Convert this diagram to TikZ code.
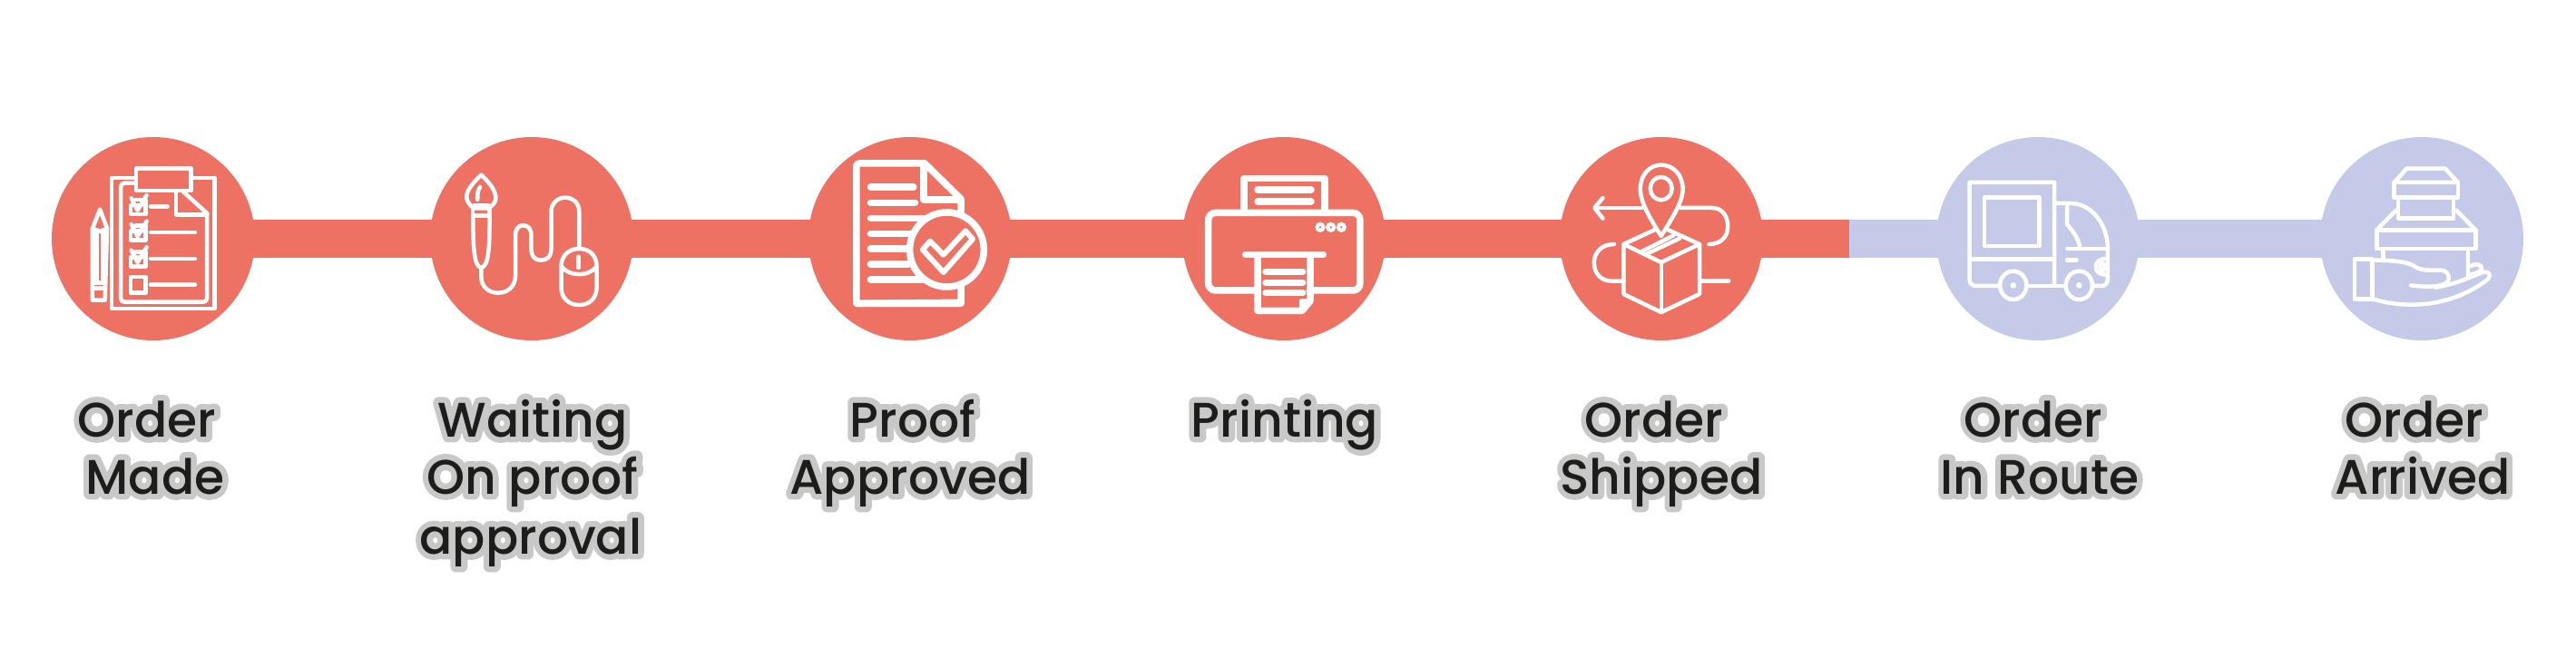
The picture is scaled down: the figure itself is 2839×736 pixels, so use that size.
\documentclass[tikz,border=0pt]{standalone}
\usepackage{fontspec}
\usetikzlibrary{backgrounds}
\newfontface\lblfont{Poppins Medium}
\newfontface\halofont[FakeBold=24]{Poppins Medium}
\definecolor{donered}{HTML}{ED7264}
\definecolor{todoblue}{HTML}{C5CAE8}
\definecolor{lbltext}{HTML}{1D1D1B}
\definecolor{lblhalo}{HTML}{C8C8C8}
\newcommand{\halotext}[1]{\pgfsetroundjoin\rlap{\halofont\color{lblhalo}#1}#1}
\tikzset{
  stepcircle/.style={circle,minimum size=224pt,inner sep=0pt},
  barline/.style={line width=42pt},
  lbl/.style={anchor=base,inner sep=0pt,text=lbltext,font=\lblfont\fontsize{53.5}{60}\selectfont},
  icon/.style={draw=white,line width=4.5pt,line join=round,line cap=round},
  iconthick/.style={draw=white,line width=7.5pt,line join=round,line cap=round}
}
\begin{document}
\begin{tikzpicture}[x=1pt,y=-1pt]
  \useasboundingbox (0,0) rectangle (2839,736);
  % circles
  \node[stepcircle,fill=donered] (made) at (169,263) {};
  \node[stepcircle,fill=donered] (waiting) at (586,263) {};
  \node[stepcircle,fill=donered] (approved) at (1003,263) {};
  \node[stepcircle,fill=donered] (printing) at (1415,263) {};
  \node[stepcircle,fill=donered] (shipped) at (1831,263) {};
  \node[stepcircle,fill=todoblue] (inroute) at (2246,263) {};
  \node[stepcircle,fill=todoblue] (arrived) at (2669,263) {};
  \coordinate (split) at (2038,263);
  \begin{pgfonlayer}{background}
    \draw[barline,donered] (made.center) -- (waiting.center);
    \draw[barline,donered] (waiting.center) -- (approved.center);
    \draw[barline,donered] (approved.center) -- (printing.center);
    \draw[barline,donered] (printing.center) -- (shipped.center);
    \draw[barline,donered] (shipped.center) -- (split);
    \draw[barline,todoblue] (split) -- (inroute.center);
    \draw[barline,todoblue] (inroute.center) -- (arrived.center);
  \end{pgfonlayer}
  % labels
  \node[lbl] (madea) at (162,481) {\halotext{Order}};
  \node[lbl] (madeb) at (171,544) {\halotext{Made}};
  \node[lbl] (waitinga) at (587,481) {\halotext{Waiting}};
  \node[lbl] (waitingb) at (587,544) {\halotext{On proof}};
  \node[lbl] (waitingc) at (585,610) {\halotext{approval}};
  \node[lbl] (approveda) at (1006,481) {\halotext{Proof}};
  \node[lbl] (approvedb) at (1003,544) {\halotext{Approved}};
  \node[lbl] (printinga) at (1416,481) {\halotext{Printing}};
  \node[lbl] (shippeda) at (1823,481) {\halotext{Order}};
  \node[lbl] (shippedb) at (1831,544) {\halotext{Shipped}};
  \node[lbl] (inroutea) at (2241,481) {\halotext{Order}};
  \node[lbl] (inrouteb) at (2248,544) {\halotext{In Route}};
  \node[lbl] (arriveda) at (2661,481) {\halotext{Order}};
  \node[lbl] (arrivedb) at (2670,544) {\halotext{Arrived}};
  % clipboard and pencil
  \begin{scope}[shift={(0,120)},x=0.4592pt,y=-0.3333pt]
    \draw[icon] (222,395) -- (240,332) -- (257,395) -- (252,632) -- (222,632) -- cycle;
    \draw[icon] (222,395) -- (240,405) -- (257,395);
    \draw[icon] (232,400) -- (232,575);
    \draw[icon] (247,400) -- (247,575);
    \draw[icon] (222,575) -- (252,575);
    \draw[icon] (222,592) -- (252,592);
    \draw[icon] (325,228) -- (268,228) -- (268,660) -- (515,660) -- (515,228) -- (458,228);
    \draw[icon,rounded corners=4pt] (325,245) -- (290,245) -- (290,638) -- (497,638) -- (497,345);
    \draw[icon] (497,345) -- (437,270);
    \draw[icon] (423,272) -- (423,350) -- (497,350);
    \draw[icon] (327,197) rectangle (458,270);
    \foreach \y in {0,86,172} {
      \draw[icon] (340,\y+318) -- (314,\y+318) -- (314,\y+348) -- (350,\y+348) -- (350,\y+305);
      \draw[icon] (315,\y+295) -- (330,\y+335) -- (352,\y+285);
      \draw[icon] (325,\y+300) -- (350,\y+300);
    }
    \draw[icon] (362,322) -- (402,322);
    \draw[icon] (362,408) -- (468,408);
    \draw[icon] (362,495) -- (468,495);
    \draw[icon] (314,555) rectangle (350,607);
    \draw[icon] (362,581) -- (468,581);
    % brush, cable and mouse
    \draw[icon] (1155,218) .. controls (1130,250) and (1118,275) .. (1120,295) .. controls (1122,310) and (1130,322) .. (1138,328) -- (1172,328) .. controls (1180,322) and (1190,310) .. (1190,295) .. controls (1190,275) and (1180,250) .. (1155,218);
    \draw[icon] (1152,258) .. controls (1146,275) .. (1146,300);
    \draw[icon] (1138,318) -- (1172,318);
    \draw[icon] (1135,328) -- (1135,352) -- (1175,352) -- (1175,328);
    \draw[icon] (1135,352) .. controls (1136,450) and (1136,520) .. (1155,525) .. controls (1174,520) and (1175,450) .. (1175,352);
    \draw[icon] (1155,525) -- (1155,555) .. controls (1155,590) and (1175,608) .. (1195,608) .. controls (1220,608) and (1237,585) .. (1237,550) -- (1237,420) .. controls (1237,395) and (1245,385) .. (1255,385) .. controls (1268,385) and (1275,395) .. (1275,420) -- (1275,460) .. controls (1275,490) and (1285,500) .. (1298,500) .. controls (1312,500) and (1323,490) .. (1323,460) -- (1323,340) .. controls (1323,310) and (1340,293) .. (1356,293) .. controls (1375,293) and (1390,310) .. (1390,340) -- (1390,462);
    \draw[icon] (1347,520) .. controls (1347,485) and (1365,462) .. (1390,462) .. controls (1415,462) and (1432,485) .. (1432,520) -- (1432,590) .. controls (1432,625) and (1415,648) .. (1390,648) .. controls (1365,648) and (1347,625) .. (1347,590) -- cycle;
    \draw[icon] (1347,520) .. controls (1365,555) and (1415,555) .. (1432,520);
    \draw[icon] (1388,488) -- (1388,525);
  \end{scope}
  % approved document
  \begin{scope}[shift={(700,120)},x=0.4592pt,y=-0.3333pt]
    \draw[iconthick,rounded corners=3pt] (782,640) -- (531,643) -- (531,180) -- (695,180);
    \draw[iconthick] (695,180) -- (782,298) -- (782,643) -- (531,643);
    \draw[iconthick] (693,185) -- (693,300) -- (782,300);
    \draw[iconthick] (565,258) -- (668,258);
    \draw[iconthick] (565,310) -- (672,310);
    \draw[iconthick] (565,361) -- (700,361);
    \draw[iconthick] (565,412) -- (665,412);
    \draw[iconthick] (565,462) -- (655,462);
    \draw[iconthick] (565,513) -- (655,513);
    \draw[iconthick] (565,564) -- (690,564);
    \draw[iconthick,fill=donered] (748,465) ellipse [x radius=89,y radius=123];
    \draw[icon,line width=6pt] (690,465) -- (708,437) -- (740,482) -- (793,403) -- (810,430) -- (740,540) -- cycle;
  \end{scope}
  % printer
  \begin{scope}[shift={(1280,150)},x=0.3333pt,y=-0.3333pt]
    \draw[iconthick,rounded corners=8pt] (318,510) -- (155,510) -- (155,253) -- (657,253) -- (657,510) -- (490,510);
    \draw[iconthick] (273,245) -- (273,140) -- (540,140) -- (540,245);
    \draw[iconthick] (318,177) -- (495,177);
    \draw[iconthick] (318,216) -- (495,216);
    \foreach \x in {525,560,595} {
      \fill[white] (\x,301) circle (17);
      \fill[donered] (\x,301) circle (4);
    }
    \draw[iconthick] (278,391) -- (535,391);
    \draw[iconthick] (318,395) -- (318,577) -- (465,577) -- (492,545) -- (492,395);
    \draw[iconthick,line width=5pt] (462,565) -- (462,545) -- (492,545);
    \draw[iconthick] (345,448) -- (467,448);
    \draw[iconthick] (345,484) -- (467,484);
    \draw[iconthick] (345,518) -- (467,518);
  \end{scope}
  % shipped box and pin
  \begin{scope}[shift={(1400,120)},x=0.4592pt,y=-0.3333pt]
    \draw[icon] (938,420) .. controls (915,370) and (888,310) .. (888,265) .. controls (888,215) and (912,185) .. (938,185) .. controls (965,185) and (990,215) .. (990,265) .. controls (990,310) and (960,370) .. (938,420);
    \draw[icon] (938,263) ellipse [x radius=26,y radius=38];
    \draw[icon] (893,327) -- (780,327);
    \draw[icon] (798,294) -- (778,327) -- (798,362);
    \draw[icon] (983,327) -- (1060,327) .. controls (1085,327) and (1098,355) .. (1098,388) .. controls (1098,425) and (1080,447) .. (1053,447);
    \draw[icon] (825,447) .. controls (795,447) and (777,475) .. (777,508) .. controls (777,545) and (795,569) .. (820,569) -- (848,569);
    \draw[icon] (1030,569) -- (1100,569);
    \draw[icon] (925,398) -- (848,447) -- (848,612) -- (938,672) -- (1030,612) -- (1030,447) -- (952,398);
    \draw[icon] (848,447) -- (938,507) -- (1030,447);
    \draw[icon] (938,507) -- (938,672);
    \draw[icon] (893,470) -- (968,418);
    \draw[icon] (905,478) -- (982,428);
  \end{scope}
  % truck and hand with parcels
  \begin{scope}[shift={(2100,120)},x=0.4713pt,y=-0.3333pt]
    \draw[icon] (348,580) -- (348,243) -- (150,243) -- (150,565) .. controls (150,578) and (157,585) .. (165,585) -- (218,585);
    \draw[icon] (150,497) -- (348,497);
    \draw[icon] (185,293) rectangle (313,453);
    \draw[icon] (288,585) -- (372,585);
    \foreach \x in {252,406} {
      \draw[icon] (\x,583) ellipse [x radius=31,y radius=47];
      \fill[white] (\x,583) ellipse [x radius=7,y radius=10];
    }
    \draw[icon] (442,585) -- (458,585) .. controls (468,585) and (473,575) .. (473,560) -- (473,460) .. controls (473,390) and (440,312) .. (385,312) -- (350,312);
    \draw[icon] (378,318) -- (378,382) .. controls (395,410) and (405,430) .. (408,458);
    \draw[icon] (378,462) -- (470,462);
    \draw[icon] (378,499) -- (400,499);
    \draw[icon] (470,495) .. controls (455,495) and (445,505) .. (445,522) .. controls (445,540) and (455,548) .. (470,548);
    \draw[icon] (461,522) ellipse [x radius=6,y radius=12];
    \draw[icon] (1143,243) -- (1172,197) -- (1262,197) -- (1292,243) -- cycle;
    \draw[icon] (1142,243) rectangle (1292,292);
    \draw[icon] (1152,292) -- (1152,362) -- (1282,362) -- (1282,292);
    \draw[icon] (1147,335) -- (1102,400) -- (1333,400) -- (1288,335);
    \draw[icon] (1102,400) rectangle (1333,462);
    \draw[icon] (1117,462) -- (1117,497);
    \draw[icon] (1315,462) -- (1315,555);
    \draw[icon] (1050,497) rectangle (1092,628);
    \draw[icon] (1092,500) .. controls (1140,500) and (1175,505) .. (1190,520) .. controls (1205,535) and (1225,533) .. (1250,533) .. controls (1265,533) and (1272,545) .. (1270,565) .. controls (1265,590) and (1220,590) .. (1182,583);
    \draw[icon] (1092,628) .. controls (1180,665) and (1280,650) .. (1360,565) .. controls (1372,550) and (1365,535) .. (1350,540) .. controls (1320,555) and (1290,578) .. (1240,590);
    \draw[icon] (1320,520) .. controls (1335,508) and (1350,515) .. (1347,530) .. controls (1345,538) and (1335,542) .. (1322,548);
  \end{scope}
\end{tikzpicture}
\end{document}
